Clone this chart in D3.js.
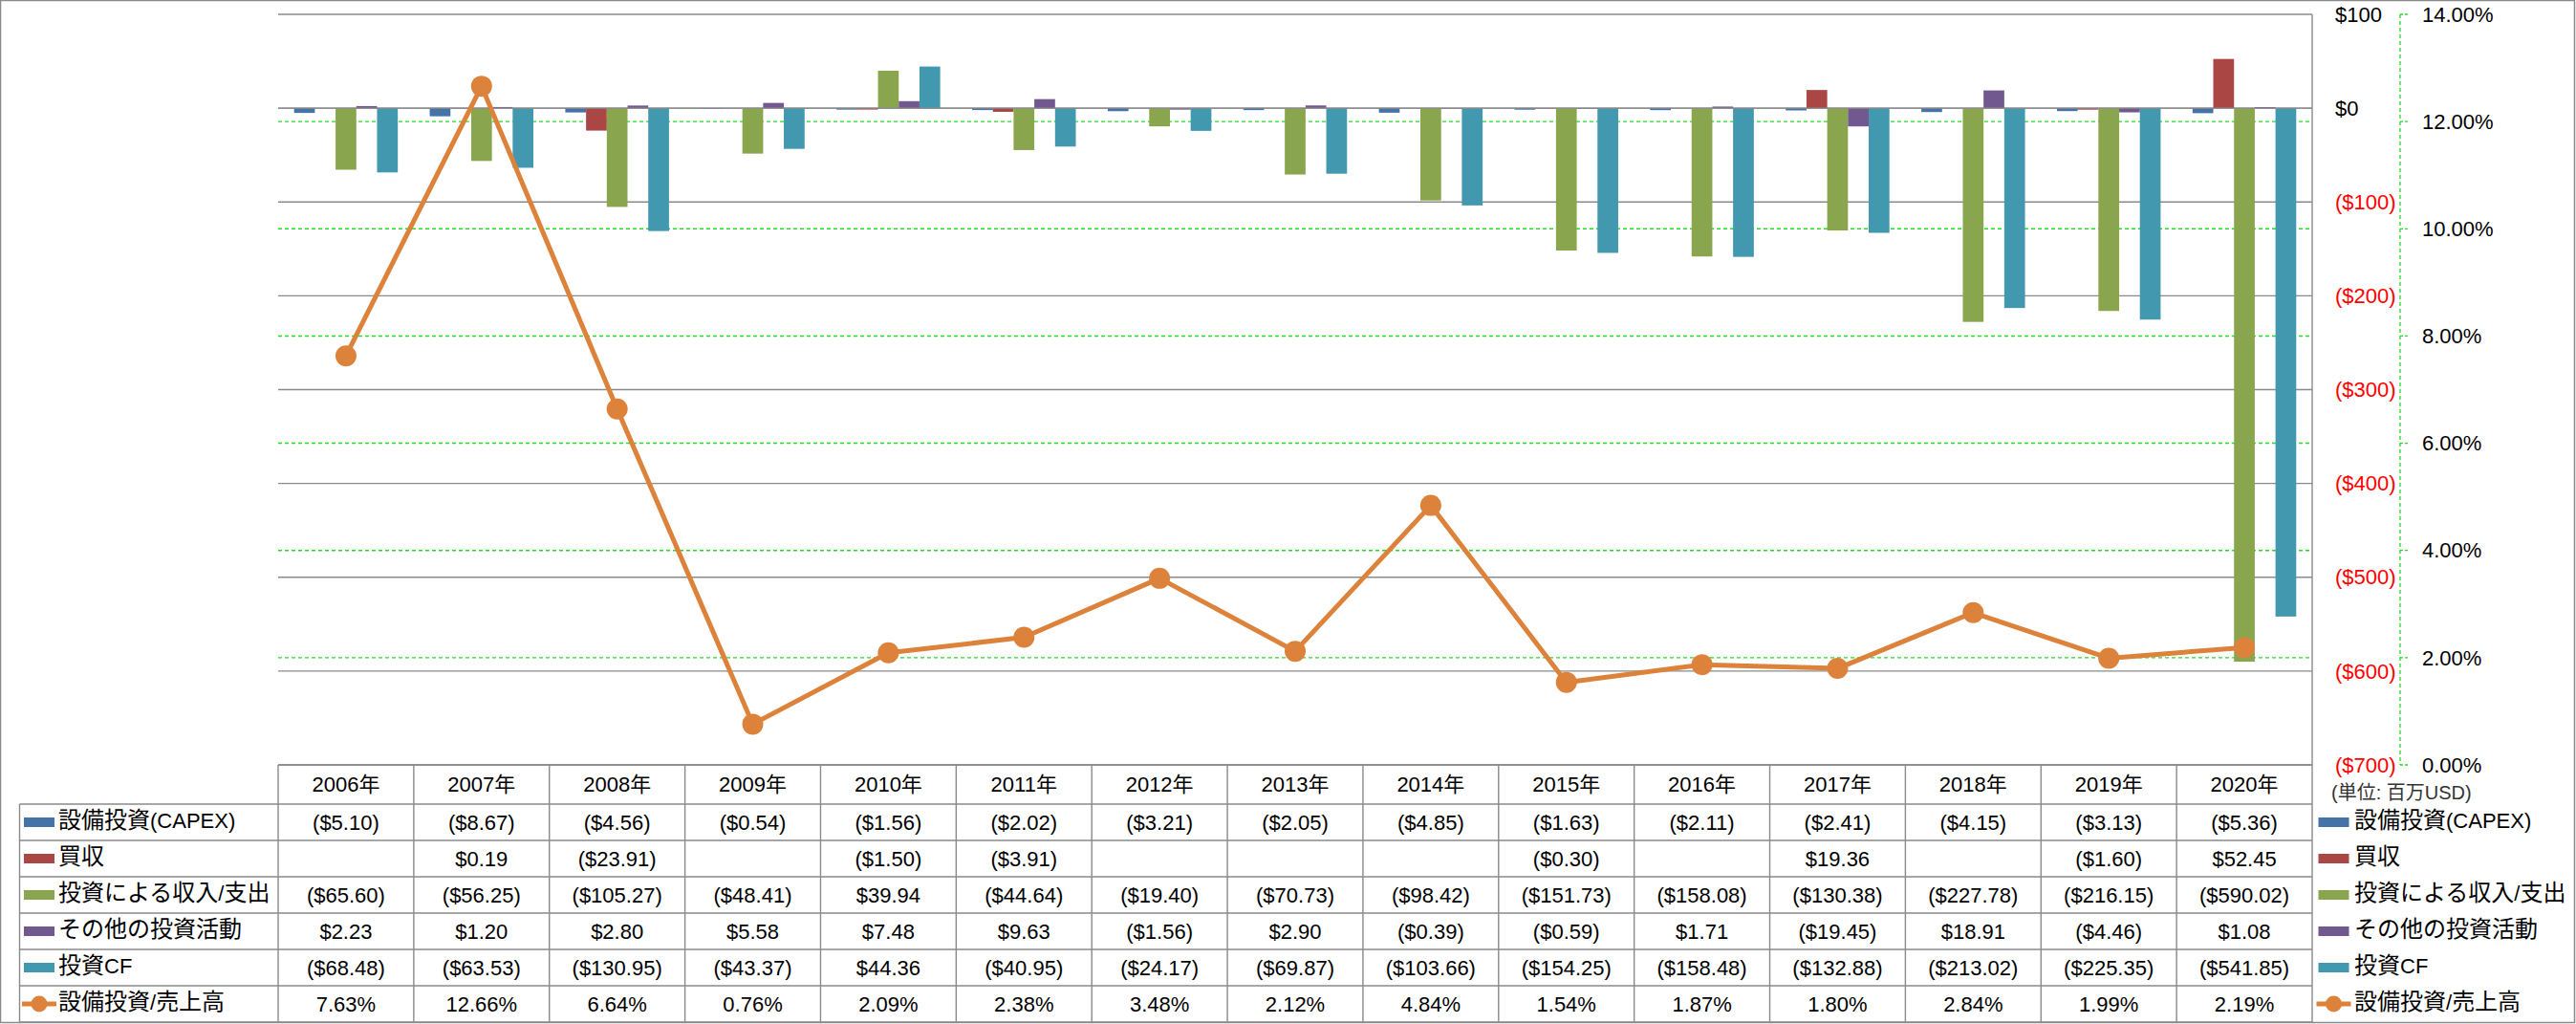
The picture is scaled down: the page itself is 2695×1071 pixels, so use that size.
<!DOCTYPE html>
<html>
<head>
<meta charset="utf-8">
<script src="https://cdn.jsdelivr.net/npm/d3@7"></script>
<style>
  html, body { margin: 0; padding: 0; background: #fff; }
  svg { display: block; }
  text { font-family: "Liberation Sans", Arial, "Noto Sans CJK JP", sans-serif; }
</style>
</head>
<body>
<svg id="chart" width="2695" height="1071"></svg>
<script>
// ---------- data ----------
const years = ["2006年","2007年","2008年","2009年","2010年","2011年","2012年","2013年","2014年","2015年","2016年","2017年","2018年","2019年","2020年"];
const seriesNames = ["設備投資(CAPEX)","買収","投資による収入/支出","その他の投資活動","投資CF"];
const lineName = "設備投資/売上高";
const capex  = [-5.10,-8.67,-4.56,-0.54,-1.56,-2.02,-3.21,-2.05,-4.85,-1.63,-2.11,-2.41,-4.15,-3.13,-5.36];
const acq    = [null,0.19,-23.91,null,-1.50,-3.91,null,null,null,-0.30,null,19.36,null,-1.60,52.45];
const invest = [-65.60,-56.25,-105.27,-48.41,39.94,-44.64,-19.40,-70.73,-98.42,-151.73,-158.08,-130.38,-227.78,-216.15,-590.02];
const other  = [2.23,1.20,2.80,5.58,7.48,9.63,-1.56,2.90,-0.39,-0.59,1.71,-19.45,18.91,-4.46,1.08];
const cf     = [-68.48,-63.53,-130.95,-43.37,44.36,-40.95,-24.17,-69.87,-103.66,-154.25,-158.48,-132.88,-213.02,-225.35,-541.85];
const ratio  = [7.63,12.66,6.64,0.76,2.09,2.38,3.48,2.12,4.84,1.54,1.87,1.80,2.84,1.99,2.19];
const leftTicks  = [100,0,-100,-200,-300,-400,-500,-600,-700];
const rightTicks = [14,12,10,8,6,4,2,0];
const unitLabel = "(単位: 百万USD)";

// ---------- style ----------
const colors = ["#4572A7","#AA4643","#89A54E","#71588F","#4198AF"];
const lineColor = "#DD823B";
const gridGrey = "#8a8a8a";
const green = "#22DD22";

const W = 2695, H = 1071;
const plotL = 291, plotR = 2419, plotT = 15, plotB = 800;
const headerB = 841, tableB = 1069, tableL = 20.5;

const svg = d3.select("#chart");
svg.append("rect").attr("x",0.5).attr("y",0.5).attr("width",W-2).attr("height",H-2)
   .attr("fill","#fff").attr("stroke","#8a8a8a").attr("stroke-width",1.5);

const x = d3.scaleBand().domain(years).range([plotL, plotR]).padding(0);
const bw = x.bandwidth();
const barW = bw / (5 + 1.54);
const inner = d3.scaleBand().domain(d3.range(5)).range([(bw - 5*barW)/2, (bw + 5*barW)/2]).padding(0);
const yL = d3.scaleLinear().domain([-700,100]).range([plotB, plotT]);
const yR = d3.scaleLinear().domain([0,14]).range([plotB, plotT]);

// gridlines
svg.append("g").selectAll("line").data(leftTicks).join("line")
  .attr("x1",plotL).attr("x2",plotR).attr("y1",d=>yL(d)).attr("y2",d=>yL(d))
  .attr("stroke",gridGrey).attr("stroke-width",1.4);
svg.append("g").selectAll("line").data(rightTicks.filter(d=>d>0 && d<14)).join("line")
  .attr("x1",plotL).attr("x2",plotR).attr("y1",d=>yR(d)).attr("y2",d=>yR(d))
  .attr("stroke",green).attr("stroke-width",1.4).attr("stroke-dasharray","4,3");

// bars
const allSeries = [capex, acq, invest, other, cf];
const barG = svg.append("g");
allSeries.forEach((vals, si) => {
  barG.append("g").selectAll("rect")
    .data(vals.map((v,i)=>({v, y:years[i]})).filter(d=>d.v!==null))
    .join("rect")
    .attr("x", d => x(d.y) + inner(si))
    .attr("width", inner.bandwidth())
    .attr("y", d => Math.min(yL(d.v), yL(0)))
    .attr("height", d => Math.abs(yL(d.v) - yL(0)))
    .attr("fill", colors[si]);
});

// zero line on top
svg.append("line").attr("x1",plotL).attr("x2",plotR).attr("y1",yL(0)).attr("y2",yL(0))
  .attr("stroke",gridGrey).attr("stroke-width",1.4);

// line series
const lineGen = d3.line().x((d,i)=>x(years[i]) + bw/2).y(d=>yR(d));
svg.append("path").datum(ratio).attr("d",lineGen).attr("fill","none")
  .attr("stroke",lineColor).attr("stroke-width",5).attr("stroke-linejoin","round");
svg.append("g").selectAll("circle").data(ratio).join("circle")
  .attr("cx",(d,i)=>x(years[i]) + bw/2).attr("cy",d=>yR(d)).attr("r",11)
  .attr("fill",lineColor);

// primary axis (right side of plot)
svg.append("line").attr("x1",plotR).attr("x2",plotR).attr("y1",plotT).attr("y2",tableB)
  .attr("stroke",gridGrey).attr("stroke-width",1.4);
svg.append("g").selectAll("text").data(leftTicks).join("text")
  .attr("x", 2443).attr("y", d=>yL(d)).attr("dy","0.35em")
  .attr("font-size",22)
  .attr("fill", d => d < 0 ? "#FF0000" : "#000")
  .text(d => d < 0 ? "($" + Math.abs(d) + ")" : "$" + d);

// secondary axis
const axR = 2511;
svg.append("line").attr("x1",axR).attr("x2",axR).attr("y1",plotT).attr("y2",plotB)
  .attr("stroke",green).attr("stroke-width",1.3).attr("stroke-dasharray","4,3");
svg.append("g").selectAll("line").data(rightTicks).join("line")
  .attr("x1",axR).attr("x2",axR+9).attr("y1",d=>yR(d)).attr("y2",d=>yR(d))
  .attr("stroke",green).attr("stroke-width",1.3).attr("stroke-dasharray","3,2");
svg.append("g").selectAll("text").data(rightTicks).join("text")
  .attr("x", 2534).attr("y", d=>yR(d)).attr("dy","0.35em")
  .attr("font-size",22).attr("fill","#000")
  .text(d => d3.format(".2f")(d) + "%");

svg.append("text").attr("x",2439).attr("y",829).attr("dy","0.35em")
  .attr("font-size",20).attr("fill","#333").text(unitLabel);

// ---------- data table ----------
const tbl = svg.append("g");
const nRows = 6;
const rowH = (tableB - headerB) / nRows;
tbl.append("line").attr("x1",plotL).attr("x2",plotR).attr("y1",plotB).attr("y2",plotB)
  .attr("stroke",gridGrey).attr("stroke-width",1.4);
tbl.selectAll("line.row").data(d3.range(nRows+1)).join("line").attr("class","row")
  .attr("x1",tableL).attr("x2",plotR)
  .attr("y1",r=>headerB + r*rowH).attr("y2",r=>headerB + r*rowH)
  .attr("stroke",gridGrey).attr("stroke-width",1.4);
tbl.selectAll("line.col").data(years).join("line").attr("class","col")
  .attr("x1",d=>x(d)).attr("x2",d=>x(d)).attr("y1",plotB).attr("y2",tableB)
  .attr("stroke",gridGrey).attr("stroke-width",1.4);
tbl.append("line").attr("x1",tableL).attr("x2",tableL).attr("y1",headerB).attr("y2",tableB)
  .attr("stroke",gridGrey).attr("stroke-width",1.4);
tbl.selectAll("text.hdr").data(years).join("text").attr("class","hdr")
  .attr("x",d=>x(d)+bw/2).attr("y",(plotB+headerB)/2).attr("dy","0.35em")
  .attr("text-anchor","middle").attr("font-size",22).text(d=>d);

const money = v => v === null ? "" : (v < 0 ? "($" + d3.format(",.2f")(-v) + ")" : "$" + d3.format(",.2f")(v));
const pct = v => d3.format(".2f")(v) + "%";
const rows = allSeries.map(vals => vals.map(money)).concat([ratio.map(pct)]);
rows.forEach((cells, r) => {
  tbl.append("g").selectAll("text").data(cells).join("text")
    .attr("x",(d,i)=>x(years[i]) + bw/2)
    .attr("y", headerB + (r+0.5)*rowH).attr("dy","0.35em")
    .attr("text-anchor","middle").attr("font-size",22).text(d=>d);
});

// legend keys (left column and right side)
const legendNames = seriesNames.concat([lineName]);
function mixedText(sel, name) {
  // CJK runs slightly larger, Latin runs narrower, as in the original
  const runs = name.match(/[\x00-\x7F]+|[^\x00-\x7F]+/g);
  runs.forEach(run => {
    sel.append("tspan").attr("font-size", /[\x00-\x7F]/.test(run) ? 22 : 24).text(run);
  });
}
function legend(keyX, textX) {
  legendNames.forEach((name, r) => {
    const cy = headerB + (r+0.5)*rowH;
    if (r < 5) {
      svg.append("rect").attr("x",keyX).attr("y",cy-5).attr("width",32).attr("height",10).attr("fill",colors[r]);
    } else {
      svg.append("line").attr("x1",keyX-2).attr("x2",keyX+34).attr("y1",cy).attr("y2",cy)
        .attr("stroke",lineColor).attr("stroke-width",5);
      svg.append("circle").attr("cx",keyX+16).attr("cy",cy).attr("r",8.5).attr("fill",lineColor);
    }
    const t = svg.append("text").attr("x",textX).attr("y",cy).attr("dy","0.35em");
    mixedText(t, name);
  });
}
legend(25, 61);
legend(2425.5, 2463);
</script>
</body>
</html>
